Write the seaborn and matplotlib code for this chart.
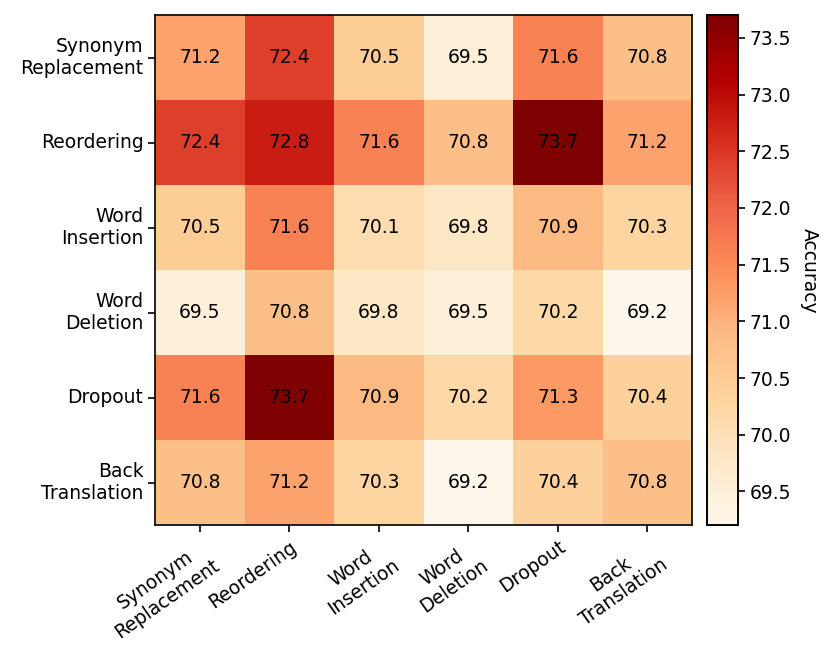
import numpy as np
import pandas as pd
import matplotlib
matplotlib.use("Agg")
import matplotlib.pyplot as plt
import seaborn as sns

# augmentation labels (rows = first augmentation, cols = second)
row_labels = ["Synonym\nReplacement", "Reordering", "Word\nInsertion",
              "Word\nDeletion", "Dropout", "Back\nTranslation"]
col_labels = row_labels

synonym_row = [71.2, 72.4, 70.5, 69.5, 71.6, 70.8]
reorder_row = [72.4, 72.8, 71.6, 70.8, 73.7, 71.2]
insert_row = [70.5, 71.6, 70.1, 69.8, 70.9, 70.3]
delete_row = [69.5, 70.8, 69.8, 69.5, 70.2, 69.2]
dropout_row = [71.6, 73.7, 70.9, 70.2, 71.3, 70.4]
backtrans_row = [70.8, 71.2, 70.3, 69.2, 70.4, 70.8]

acc = pd.DataFrame([synonym_row, reorder_row, insert_row, delete_row,
                    dropout_row, backtrans_row],
                   index=row_labels, columns=col_labels)

FS = 13.5

fig = plt.figure(figsize=(8.3, 6.61), dpi=100)
ax = fig.add_axes([0.187, 0.205, 0.647, 0.772])
cax = fig.add_axes([0.852, 0.205, 0.037, 0.772])

sns.heatmap(acc, ax=ax, cbar_ax=cax, cmap="OrRd",
            vmin=acc.values.min(), vmax=acc.values.max(),
            annot=True, fmt=".1f",
            annot_kws={"color": "black", "fontsize": FS})

for s in ax.spines.values():
    s.set_visible(True)
    s.set_linewidth(1.2)
for s in cax.spines.values():
    s.set_visible(True)
    s.set_linewidth(1.2)

ax.set_xticklabels(col_labels, rotation=35, ha="right", multialignment="center",
                   rotation_mode="anchor", fontsize=FS)
ax.set_yticklabels(row_labels, rotation=0, fontsize=FS)
ax.tick_params(axis="both", length=5, width=1.2)

cax.tick_params(labelsize=FS, length=5, width=1.2)
cax.set_ylabel("Accuracy", rotation=270, labelpad=20, fontsize=FS)

fig.savefig("out.png", dpi=100)
